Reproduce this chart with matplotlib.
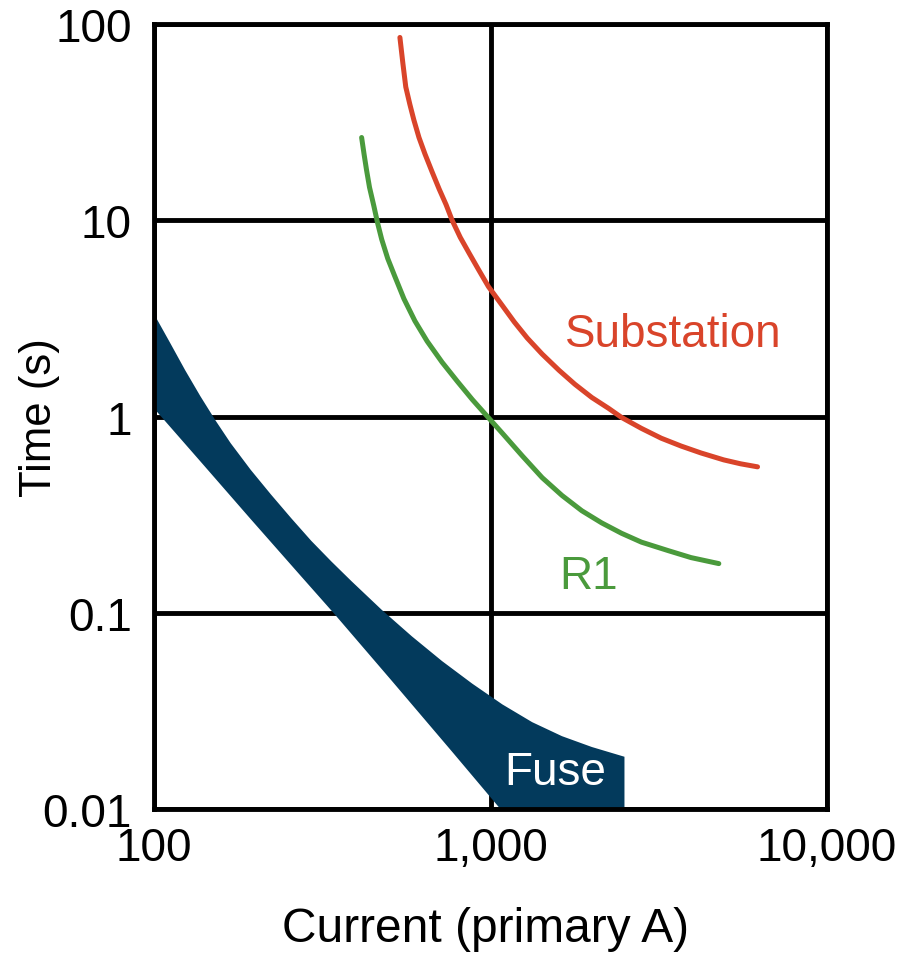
import numpy as np
import matplotlib.pyplot as plt
from matplotlib.ticker import FixedLocator, FixedFormatter, NullLocator

plt.rcParams['font.family'] = ['Liberation Sans', 'DejaVu Sans']

# relay curves (current in primary A, time in s)
sub_x = [538, 549, 560, 576, 592, 613, 639, 670, 704, 738, 769, 813, 865, 921, 986,
         1085, 1177, 1286, 1424, 1598, 1781, 2000, 2244, 2452, 2808, 3217, 3685, 4221, 4934, 5539, 6217]
sub_t = [85.4, 63.1, 47.8, 38.9, 32.4, 26.4, 21.7, 17.7, 14.4, 12.0, 10.0, 8.18, 6.77, 5.61, 4.59,
         3.67, 3.03, 2.51, 2.08, 1.72, 1.46, 1.25, 1.10, 0.989, 0.870, 0.775, 0.707, 0.652, 0.601, 0.574, 0.554]

r1_x = [414, 421, 428, 437, 450, 462, 475, 495, 520, 553, 596, 648, 718, 797, 883, 979,
        1085, 1243, 1424, 1631, 1868, 2140, 2452, 2808, 3373, 3944, 4770]
r1_t = [26.4, 21.7, 18.1, 14.7, 11.85, 9.65, 7.99, 6.38, 5.16, 3.98, 3.07, 2.42, 1.89, 1.51, 1.22, 1.0,
        0.821, 0.630, 0.488, 0.396, 0.331, 0.287, 0.254, 0.229, 0.2073, 0.191, 0.178]

# fuse band outline: upper edge (left to right, ending at the bottom corner), lower edge (left to right)
fuse_up_x = [100, 111.7, 123.8, 137.3, 152.3, 168.9, 193.8, 222.5, 255.4, 293.2, 336.5, 386.3, 475,
             584, 718, 883, 1085, 1330, 1631, 2000, 2501, 2501]
fuse_up_t = [3.33, 2.37, 1.72, 1.27, 0.955, 0.732, 0.535, 0.401, 0.304, 0.2327, 0.1826, 0.1448, 0.1035,
             0.0758, 0.0567, 0.0435, 0.0341, 0.0277, 0.0235, 0.0207, 0.01846, 0.01]
fuse_lo_x = [100, 137.3, 193.8, 273.5, 341.2, 508.9, 769.4, 1070]
fuse_lo_t = [1.10, 0.591, 0.300, 0.1535, 0.1, 0.045, 0.01956, 0.01]

xticks = [100, 1000, 10000]
xlabels = ['100', '1,000', '10,000']
yticks = [0.01, 0.1, 1, 10, 100]
ylabels = ['0.01', '0.1', '1', '10', '100']

red = '#D9442A'
green = '#4A9A3C'
navy = '#033A5C'

fig = plt.figure(figsize=(9.02, 9.54), dpi=100)
ax = fig.add_axes([154 / 902, 1 - 810 / 954, (827 - 154) / 902, (810 - 25) / 954])

ax.set_xscale('log')
ax.set_yscale('log')
ax.set_xlim(100, 10000)
ax.set_ylim(0.01, 100)

poly_x = fuse_up_x + fuse_lo_x[::-1]
poly_t = fuse_up_t + fuse_lo_t[::-1]
ax.fill(poly_x, poly_t, color=navy, lw=0, zorder=3)
ax.plot(sub_x, sub_t, color=red, lw=3.6, solid_capstyle='round', solid_joinstyle='round', zorder=4)
ax.plot(r1_x, r1_t, color=green, lw=3.6, solid_capstyle='round', solid_joinstyle='round', zorder=4)

ax.text(1560, 0.0134, 'Fuse', color='white', fontsize=33, ha='center', va='baseline', zorder=5)
ax.text(3490, 2.3, 'Substation', color=red, fontsize=33, ha='center', va='baseline')
ax.text(1958, 0.133, 'R1', color=green, fontsize=33, ha='center', va='baseline')

ax.xaxis.set_major_locator(FixedLocator(xticks))
ax.xaxis.set_major_formatter(FixedFormatter(xlabels))
ax.yaxis.set_major_locator(FixedLocator(yticks))
ax.yaxis.set_major_formatter(FixedFormatter(ylabels))
ax.xaxis.set_minor_locator(NullLocator())
ax.yaxis.set_minor_locator(NullLocator())
ax.tick_params(axis='x', length=0, labelsize=33, pad=12)
ax.tick_params(axis='y', length=0, labelsize=33, pad=16)

ax.grid(True, which='major', color='black', lw=3.5)
ax.set_axisbelow(True)
for s in ax.spines.values():
    s.set_linewidth(3.5)
    s.set_zorder(6)

ax.set_xlabel('Current (primary A)', fontsize=34.5)
ax.set_ylabel('Time (s)', fontsize=31.5)
ax.xaxis.set_label_coords(0.493, -0.123)
ax.yaxis.set_label_coords(-0.139, 0.5)

fig.savefig('out.png', dpi=100)
